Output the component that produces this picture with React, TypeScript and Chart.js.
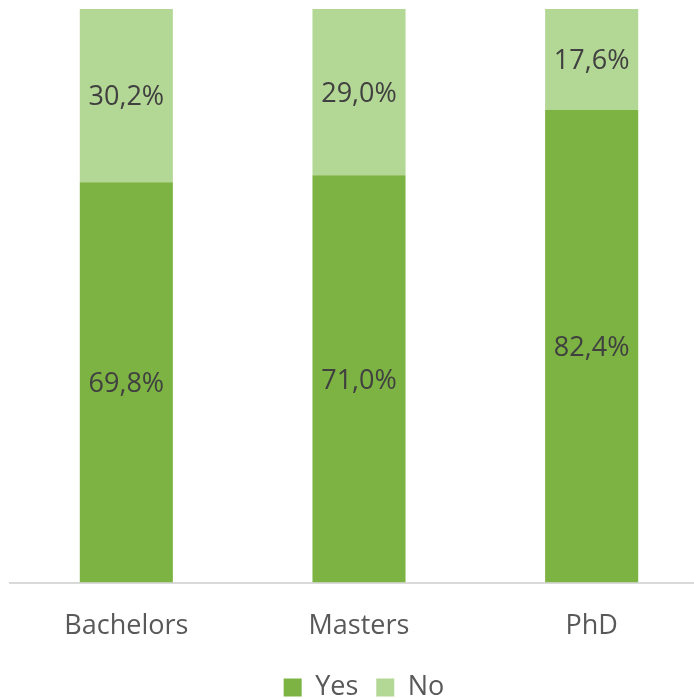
import React, { useEffect, useRef } from "react";
import { Chart, registerables } from "chart.js";

Chart.register(...registerables);

const categories = ["Bachelors", "Masters", "PhD"];
const yesValues = [69.8, 71.0, 82.4];
const noValues = [30.2, 29.0, 17.6];
const seriesNames = ["Yes", "No"];

const FONT = "'Open Sans', sans-serif";

const labelPlugin = {
  id: "barLabels",
  afterDatasetsDraw(chart: any) {
    const ctx = chart.ctx;
    ctx.save();
    ctx.font = `27px ${FONT}`;
    ctx.fillStyle = "#404040";
    ctx.textAlign = "center";
    ctx.textBaseline = "middle";
    chart.data.datasets.forEach((ds: any, di: number) => {
      const meta = chart.getDatasetMeta(di);
      meta.data.forEach((el: any, i: number) => {
        const v = ds.data[i];
        const props = el.getProps(["x", "y", "base"], true);
        const cy = (props.y + props.base) / 2;
        ctx.fillText(v.toFixed(1).replace(".", ",") + "%", props.x, cy + 2);
      });
    });
    ctx.restore();
  },
};

const legendShift = {
  id: "legendShift",
  afterLayout(chart: any) {
    const lg = chart.legend;
    if (!lg) return;
    lg.left += 5;
    lg.right += 5;
    lg.top -= 7;
    lg.bottom -= 7;
  },
};

export default function App() {
  const ref = useRef<HTMLCanvasElement>(null);
  useEffect(() => {
    document.body.style.margin = "0";
    const chart = new Chart(ref.current!, {
      type: "bar",
      data: {
        labels: categories,
        datasets: [
          { label: seriesNames[0], data: yesValues, backgroundColor: "#7CB342" },
          { label: seriesNames[1], data: noValues, backgroundColor: "#B3D794" },
        ],
      },
      options: {
        animation: false,
        responsive: false,
        maintainAspectRatio: false,
        layout: { padding: { left: 10, right: 20, top: 9, bottom: -19 } },
        datasets: { bar: { categoryPercentage: 1, barPercentage: 0.4 } } as any,
        scales: {
          x: {
            stacked: true,
            grid: { display: false },
            border: { display: true, color: "#D9D9D9", width: 2 },
            ticks: { color: "#595959", font: { family: FONT, size: 27 }, padding: 20 },
          },
          y: { stacked: true, display: false, min: 0, max: 100 },
        },
        plugins: {
          legend: {
            position: "bottom",
            labels: {
              color: "#595959",
              font: { family: FONT, size: 27 },
              boxWidth: 18,
              boxHeight: 18,
              padding: 18,
            },
          },
          tooltip: { enabled: false },
        },
      },
      plugins: [labelPlugin, legendShift],
    });
    return () => chart.destroy();
  }, []);
  return (
    <div style={{ width: 694, height: 699, overflow: "hidden", position: "relative" }}>
      <canvas ref={ref} width={728} height={699} style={{ display: "block" }} />
    </div>
  );
}
